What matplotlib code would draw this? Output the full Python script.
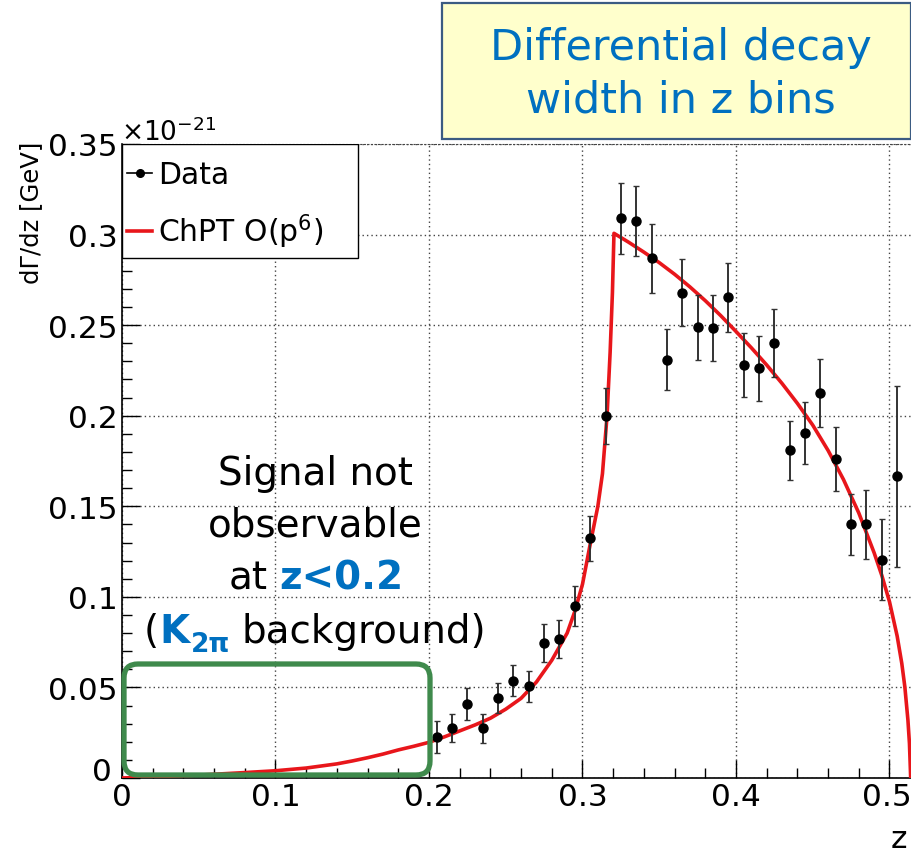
import matplotlib
matplotlib.use("Agg")
import matplotlib.pyplot as plt
from matplotlib.ticker import MultipleLocator, FixedLocator
from matplotlib.lines import Line2D
from matplotlib.patches import FancyBboxPatch, Rectangle
from matplotlib.transforms import IdentityTransform, ScaledTranslation

# ---------------- data (values in units of 1e-21 GeV) ----------------
data_z = [0.205, 0.215, 0.225, 0.235, 0.245, 0.255, 0.265, 0.275, 0.285, 0.295,
          0.305, 0.315, 0.325, 0.335, 0.345, 0.355, 0.365, 0.375, 0.385, 0.395,
          0.405, 0.415, 0.425, 0.435, 0.445, 0.455, 0.465, 0.475, 0.485, 0.495, 0.505]
data_y = [0.0225, 0.0276, 0.0408, 0.0274, 0.0440, 0.0537, 0.0506, 0.0744, 0.0767, 0.0951,
          0.1323, 0.2000, 0.3090, 0.3075, 0.2869, 0.2310, 0.2680, 0.2488, 0.2484, 0.2653,
          0.2280, 0.2262, 0.2401, 0.1810, 0.1905, 0.2124, 0.1760, 0.1400, 0.1400, 0.1205, 0.1665]
data_err = [0.0087, 0.0080, 0.0087, 0.0080, 0.0083, 0.0085, 0.0087, 0.0105, 0.0107, 0.0110,
            0.0126, 0.0155, 0.0196, 0.0195, 0.0190, 0.0170, 0.0185, 0.0180, 0.0180, 0.0190,
            0.0176, 0.0180, 0.0186, 0.0163, 0.0170, 0.0187, 0.0176, 0.0168, 0.0190, 0.0223, 0.0500]

curve_z = [0.0, 0.02, 0.05, 0.08, 0.10, 0.12, 0.14, 0.15, 0.16, 0.17, 0.18, 0.19, 0.20,
           0.21, 0.22, 0.23, 0.24, 0.25, 0.26, 0.27, 0.28, 0.29, 0.295, 0.30, 0.305, 0.31,
           0.313, 0.316, 0.318, 0.3195, 0.3205,
           0.33, 0.34, 0.35, 0.36, 0.37, 0.38, 0.39, 0.40, 0.41, 0.42, 0.43, 0.44, 0.45,
           0.46, 0.47, 0.48, 0.49, 0.495, 0.50, 0.505, 0.508, 0.510, 0.512, 0.513, 0.5138]
curve_y = [0.0, 0.0006, 0.0016, 0.0030, 0.0040, 0.0055, 0.0078, 0.0094, 0.0112, 0.0132,
           0.0155, 0.0175, 0.0197, 0.0227, 0.0260, 0.0293, 0.0330, 0.0380, 0.0440, 0.0530,
           0.0650, 0.0800, 0.0920, 0.1070, 0.1290, 0.1500, 0.1680, 0.2000, 0.2350, 0.2680,
           0.3007,
           0.2958, 0.2903, 0.2845, 0.2781, 0.2711, 0.2635, 0.2553, 0.2465, 0.2375, 0.2280,
           0.2178, 0.2068, 0.1948, 0.1808, 0.1648, 0.1463, 0.1243, 0.1118, 0.0973, 0.0783,
           0.0633, 0.0503, 0.0320, 0.0190, 0.0]

x_ticks = [0.0, 0.1, 0.2, 0.3, 0.4, 0.5]
x_ticklabels = ["0", "0.1", "0.2", "0.3", "0.4", "0.5"]
y_ticks = [0.0, 0.05, 0.10, 0.15, 0.20, 0.25, 0.30, 0.35]
y_ticklabels = ["0", "0.05", "0.1", "0.15", "0.2", "0.25", "0.3", "0.35"]

# ---------------- style ----------------
plt.rcParams["font.family"] = ["DejaVu Sans"]
plt.rcParams["mathtext.fontset"] = "dejavusans"

W, H = 912, 853
fig = plt.figure(figsize=(W / 100, H / 100), dpi=100)
fig.patch.set_facecolor("white")

x0px, x1px = 122, 912
ytop, ybot = 145, 779
ax = fig.add_axes([x0px / W, 1 - ybot / H, (x1px - x0px) / W, (ybot - ytop) / H])

px_per_unit = 1535.0
ax.set_xlim(0, (x1px - x0px) / px_per_unit)
ax.set_ylim(0, 0.35)

RED = "#e8161b"
ax.plot(curve_z, curve_y, color=RED, lw=2.6, zorder=3)
ax.errorbar(data_z, data_y, yerr=data_err, fmt="o", color="black", ms=6.5,
            ecolor="#333333", elinewidth=1.4, capsize=2.5, capthick=1.0, zorder=4)

# ticks & grid
ax.xaxis.set_major_locator(FixedLocator(x_ticks))
ax.set_xticklabels(x_ticklabels)
ax.yaxis.set_major_locator(FixedLocator(y_ticks))
ax.set_yticklabels(y_ticklabels)
ax.xaxis.set_minor_locator(MultipleLocator(0.02))
ax.yaxis.set_minor_locator(MultipleLocator(0.01))
ax.tick_params(which="both", direction="in", top=False, right=False, width=1.0, color="black")
ax.tick_params(which="major", length=13, labelsize=22.5, pad=3)
ax.tick_params(which="minor", length=7)
ax.grid(True, which="major", linestyle=(0, (1, 2.2)), color="#444444", lw=1.0)
ax.set_axisbelow(True)
ax.spines["right"].set_visible(False)
ax.spines["top"].set_linestyle((0, (1, 2.2)))
ax.spines["top"].set_color("#444444")
ax.spines["left"].set_linewidth(1.2)
ax.spines["bottom"].set_linewidth(1.2)

# small nudges so edge labels stay inside the picture and do not collide
ylab0 = ax.get_yticklabels()[0]
ylab0.set_transform(ylab0.get_transform() + ScaledTranslation(-4 / 72, 7 / 72, fig.dpi_scale_trans))
xlab_last = ax.get_xticklabels()[-1]
xlab_last.set_horizontalalignment("right")
xlab_last.set_transform(xlab_last.get_transform() + ScaledTranslation(22 / 100, 0, fig.dpi_scale_trans))

# axis titles
fig.text(31 / W, 1 - 213 / H, "dΓ/dz [GeV]", rotation=90, ha="center", va="center", fontsize=17.5)
fig.text(907 / W, 1 - 848 / H, "z", ha="right", va="baseline", fontsize=22.5)
fig.text(121 / W, 1 - 141 / H, r"$\times10^{-21}$", ha="left", va="baseline", fontsize=19)

# legend
data_handle = Line2D([], [], color="black", marker="o", ms=5.5, lw=1.2)
curve_handle = Line2D([], [], color=RED, lw=2.6)
leg = ax.legend([data_handle, curve_handle], ["Data", r"ChPT O(p$^{6}$)"],
                loc="upper left", bbox_to_anchor=(0.0, 1 - (156 - ytop) / (ybot - ytop)),
                frameon=False, fontsize=21.5, handlelength=0.85, handletextpad=0.2,
                borderpad=0.17, borderaxespad=0.0, labelspacing=0.75)
leg.set_zorder(6)
ax.add_patch(Rectangle((0, 1 - (259 - ytop) / (ybot - ytop)), (358 - x0px) / (x1px - x0px),
                       (259 - ytop) / (ybot - ytop), transform=ax.transAxes,
                       facecolor="white", edgecolor="black", lw=1.0, zorder=5))

# ---------------- slide annotations (pixel coordinates) ----------------
ident = IdentityTransform()
BLUE = "#0070c0"

def P(x, y):
    return x, H - y

# title box
fig.add_artist(Rectangle(P(442, 140), 469, 136, transform=ident, facecolor="#ffffcc",
                         edgecolor="#3b5b82", lw=1.6, zorder=10))
fig.text(*P(681, 60), "Differential decay", transform=ident, ha="center", va="baseline",
         fontsize=31, color=BLUE, zorder=11)
fig.text(*P(681, 113), "width in z bins", transform=ident, ha="center", va="baseline",
         fontsize=31, color=BLUE, zorder=11)

# green rounded box
fig.add_artist(FancyBboxPatch(P(124, 776), 306, 111, boxstyle="round,pad=0,rounding_size=14",
                              transform=ident, facecolor="none", edgecolor="#3f8a4c",
                              lw=3.8, zorder=9))

renderer = fig.canvas.get_renderer()

def rich_line(parts, cx, baseline):
    texts = []
    widths = []
    for s, kw, dy, gap in parts:
        t = fig.text(0, 0, s, transform=ident, ha="left", va="baseline", zorder=11, **kw)
        w = t.get_window_extent(renderer).width
        texts.append((t, dy, gap))
        widths.append(w)
    total = sum(widths) + sum(p[3] for p in parts)
    x = cx - total / 2
    for (t, dy, gap), w in zip(texts, widths):
        t.set_position((x, H - baseline - dy))
        x += w + gap

FS = 28
black = dict(fontsize=FS, color="black")
blueb = dict(fontsize=FS, color=BLUE, fontweight="bold")
subb = dict(fontsize=19, color=BLUE, fontweight="bold")
rich_line([("Signal not", black, 0, 0)], 315, 485)
rich_line([("observable", black, 0, 0)], 315, 537)
rich_line([("at", black, 0, 12), ("z<0.2", blueb, 0, 0)], 316, 590)
rich_line([("(", black, 0, 1), ("K", blueb, 0, 1), ("2π", subb, 9, 12),
           ("background)", black, 0, 0)], 315, 643)

fig.savefig("out.png", dpi=100, facecolor="white")
